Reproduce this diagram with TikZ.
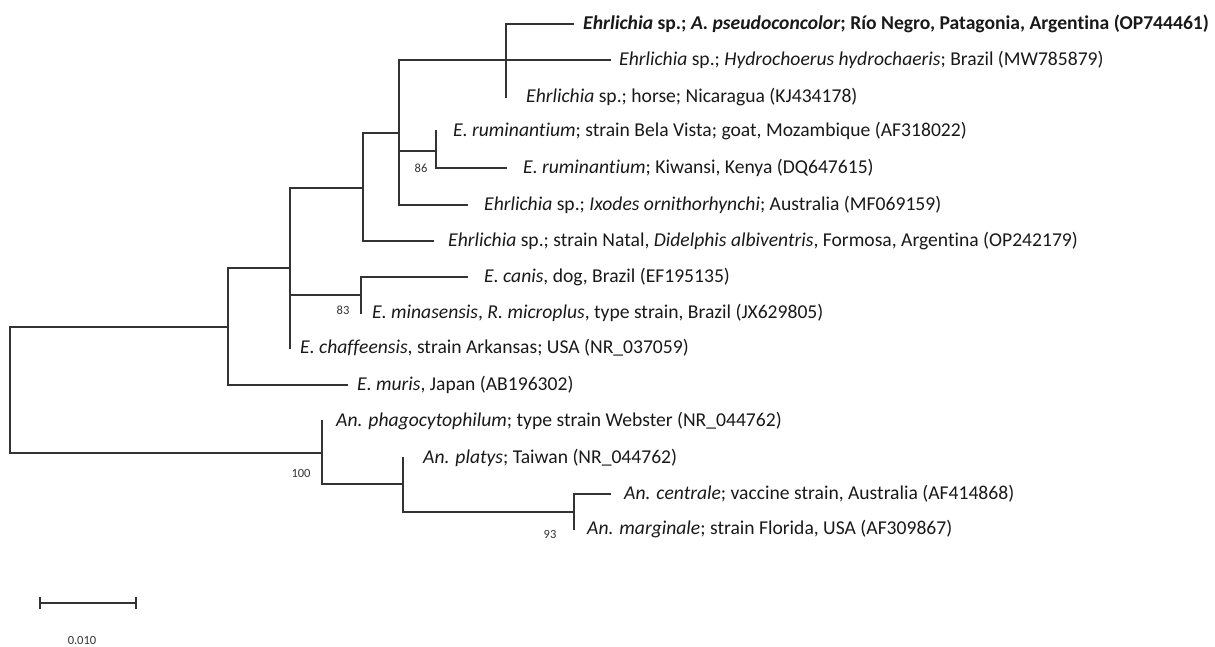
\documentclass[tikz,border=0pt]{standalone}
\usepackage{fontspec}
\setmainfont{Carlito}[Ligatures={NoCommon}]
\usetikzlibrary{positioning}

\begin{document}
\begin{tikzpicture}[x=1pt, y=-1pt,
  node distance = 10pt,
  taxon/.style={inner sep=0pt, text=black!90, font=\fontsize{19.6}{22}\selectfont},
  boot/.style={inner sep=0pt, text=black!80, font=\fontsize{12.5}{14}\selectfont},
  branch/.style={line width=1.3pt, draw=black!80},
  line cap=rect]

  \useasboundingbox (0,0) rectangle (1215,646);

  % inner nodes of the tree
  \coordinate (root) at (10,390);
  \coordinate (A) at (228,327);
  \coordinate (B) at (290,268);
  \coordinate (C) at (361,295);
  \coordinate (D) at (363,188);
  \coordinate (E) at (399,133);
  \coordinate (F) at (436,151);
  \coordinate (G) at (506,60);
  \coordinate (H) at (322,453);
  \coordinate (I) at (403,484);
  \coordinate (J) at (574,512);

  % tips
  \coordinate (t1) at (573,24);
  \coordinate (t2) at (610,60);
  \coordinate (t3) at (506,97);
  \coordinate (t4) at (436,131);
  \coordinate (t5) at (506,168);
  \coordinate (t6) at (467,205);
  \coordinate (t7) at (433,241);
  \coordinate (t8) at (467,277);
  \coordinate (t9) at (361,313);
  \coordinate (t10) at (290,348);
  \coordinate (t11) at (347,385);
  \coordinate (t12) at (322,421);
  \coordinate (t13) at (403,458);
  \coordinate (t14) at (610,494);
  \coordinate (t15) at (574,529);

  \draw[branch] (root) |- (A);
  \draw[branch] (root) |- (H);
  \draw[branch] (A) |- (B);
  \draw[branch] (A) |- (t11);
  \draw[branch] (B) |- (D);
  \draw[branch] (B) |- (C);
  \draw[branch] (B) |- (t10);
  \draw[branch] (D) |- (E);
  \draw[branch] (D) |- (t7);
  \draw[branch] (E) |- (t2);
  \draw[branch] (E) |- (F);
  \draw[branch] (E) |- (t6);
  \draw[branch] (G) |- (t1);
  \draw[branch] (G) |- (t3);
  \draw[branch] (F) |- (t4);
  \draw[branch] (F) |- (t5);
  \draw[branch] (C) |- (t8);
  \draw[branch] (C) |- (t9);
  \draw[branch] (H) |- (t12);
  \draw[branch] (H) |- (I);
  \draw[branch] (I) |- (t13);
  \draw[branch] (I) |- (J);
  \draw[branch] (J) |- (t14);
  \draw[branch] (J) |- (t15);

  \node[taxon, right=10pt of t1] (l1) {\textbf{\textit{Ehrlichia} sp.; \textit{A. pseudoconcolor}; Río Negro, Patagonia, Argentina (OP744461)}};
  \node[taxon, right=9pt of t2] (l2) {\textit{Ehrlichia} sp.; \textit{Hydrochoerus hydrochaeris}; Brazil (MW785879)};
  \node[taxon, right=20pt of t3] (l3) {\textit{Ehrlichia} sp.; horse; Nicaragua (KJ434178)};
  \node[taxon, right=17pt of t4] (l4) {\textit{E. ruminantium}; strain Bela Vista; goat, Mozambique (AF318022)};
  \node[taxon, right=17pt of t5] (l5) {\textit{E. ruminantium}; Kiwansi, Kenya (DQ647615)};
  \node[taxon, right=17pt of t6] (l6) {\textit{Ehrlichia} sp.; \textit{Ixodes ornithorhynchi}; Australia (MF069159)};
  \node[taxon, right=15pt of t7] (l7) {\textit{Ehrlichia} sp.; strain Natal, \textit{Didelphis albiventris}, Formosa, Argentina (OP242179)};
  \node[taxon, right=17pt of t8] (l8) {\textit{E. canis}, dog, Brazil (EF195135)};
  \node[taxon, right=11pt of t9] (l9) {\textit{E. minasensis}, \textit{R. microplus}, type strain, Brazil (JX629805)};
  \node[taxon, right=10pt of t10] (l10) {\textit{E. chaffeensis}, strain Arkansas; USA (NR\_037059)};
  \node[taxon, right=10pt of t11] (l11) {\textit{E. muris}, Japan (AB196302)};
  \node[taxon, right=14pt of t12] (l12) {\textit{An. phagocytophilum}; type strain Webster (NR\_044762)};
  \node[taxon, right=20pt of t13] (l13) {\textit{An. platys}; Taiwan (NR\_044762)};
  \node[taxon, right=14pt of t14] (l14) {\textit{An. centrale}; vaccine strain, Australia (AF414868)};
  \node[taxon, right=13pt of t15] (l15) {\textit{An. marginale}; strain Florida, USA (AF309867)};

  % bootstrap values
  \node[boot] (b86) at (421,168) {86};
  \node[boot] (b83) at (343,310) {83};
  \node[boot] (b100) at (301,473) {100};
  \node[boot] (b93) at (550,534) {93};

  % scale bar
  \coordinate (s1) at (40,603);
  \coordinate (s2) at (136,603);
  \draw[branch, line cap=butt] (s1) -- (s2);
  \draw[branch, line cap=butt] ([yshift=-6pt]s1) -- ([yshift=6pt]s1);
  \draw[branch, line cap=butt] ([yshift=-6pt]s2) -- ([yshift=6pt]s2);
  \node[boot] (sc) at (82,640) {0.010};
\end{tikzpicture}
\end{document}
